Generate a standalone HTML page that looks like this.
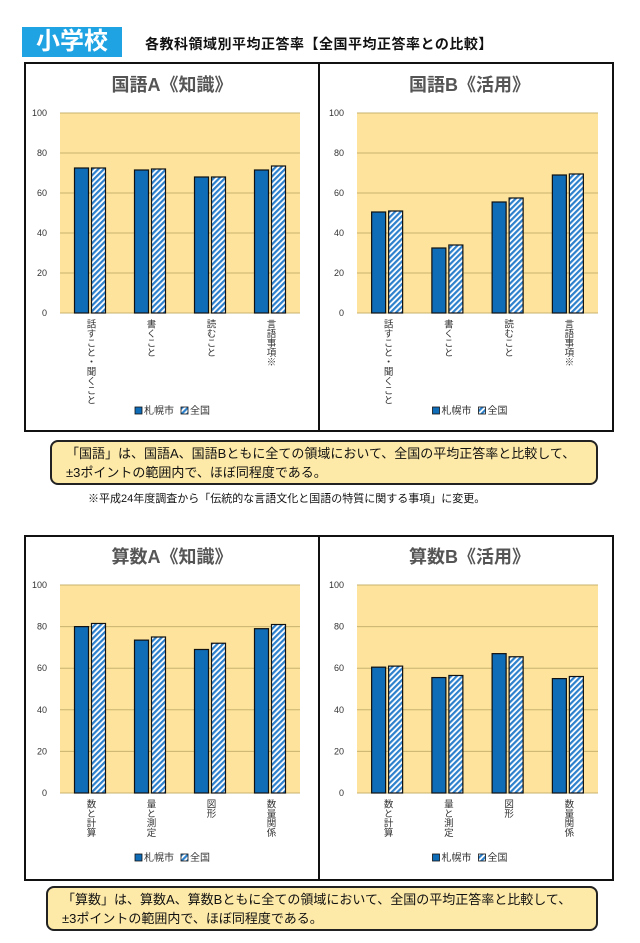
<!DOCTYPE html>
<html><head><meta charset="utf-8">
<style>
body{margin:0;background:#fff;font-family:"Liberation Sans","Noto Sans CJK JP",sans-serif;}
#wrap{position:relative;width:640px;height:943px;overflow:hidden;background:#fff;}
.abs{position:absolute;}
.note{position:absolute;background:#fde9a8;border:2px solid #222;border-radius:8px;font-size:13px;line-height:19px;color:#111;padding:2px 0 0 14px;box-sizing:border-box;}
</style></head>
<body>
<div id="wrap">
<div class="abs" style="left:22px;top:27px;width:100px;height:30px;background:#1fa3e3;color:#fff;font-weight:bold;font-size:24px;line-height:30px;text-align:center;">小学校</div>
<div class="abs" style="left:145px;top:34px;font-size:14px;font-weight:bold;color:#111;letter-spacing:0.5px;">各教科領域別平均正答率【全国平均正答率との比較】</div>
<div class="abs" style="left:24px;top:62px;width:590px;height:370px;border:2px solid #111;box-sizing:border-box;"></div>
<div class="abs" style="left:318px;top:62px;width:2px;height:370px;background:#111;"></div>
<div class="abs" style="left:24px;top:535px;width:590px;height:346px;border:2px solid #111;box-sizing:border-box;"></div>
<div class="abs" style="left:318px;top:535px;width:2px;height:346px;background:#111;"></div>
<div class="note" style="left:50px;top:440px;width:548px;height:45px;">「国語」は、国語A、国語Bともに全ての領域において、全国の平均正答率と比較して、<br>±3ポイントの範囲内で、ほぼ同程度である。</div>
<div class="abs" style="left:88px;top:490px;font-size:11px;color:#111;">※平成24年度調査から「伝統的な言語文化と国語の特質に関する事項」に変更。</div>
<div class="note" style="left:46px;top:886px;width:552px;height:45px;">「算数」は、算数A、算数Bともに全ての領域において、全国の平均正答率と比較して、<br>±3ポイントの範囲内で、ほぼ同程度である。</div>
<svg class="abs" id="svg" width="640" height="943" style="left:0;top:0">
<defs><pattern id="hatch" width="4" height="4" patternUnits="userSpaceOnUse" patternTransform="rotate(45)"><rect width="4" height="4" fill="#ffffff"/><rect width="2.2" height="4" fill="#2c80cc"/></pattern></defs>
</svg>
</div>
<script>
const catsKA=["話すこと・聞くこと","書くこと","読むこと","言語事項※"];
const sapKA=[72.5,71.5,68,71.5];
const natKA=[72.5,72,68,73.5];
const catsKB=["話すこと・聞くこと","書くこと","読むこと","言語事項※"];
const sapKB=[50.5,32.5,55.5,69];
const natKB=[51,34,57.5,69.5];
const catsSA=["数と計算","量と測定","図形","数量関係"];
const sapSA=[80,73.5,69,79];
const natSA=[81.5,75,72,81];
const catsSB=["数と計算","量と測定","図形","数量関係"];
const sapSB=[60.5,55.5,67,55];
const natSB=[61,56.5,65.5,56];
const ticks=[0,20,40,60,80,100];
const seriesNames=["札幌市","全国"];

const svg=document.getElementById('svg');
const NS="http://www.w3.org/2000/svg";
function mk(tag,attrs,parent){const e=document.createElementNS(NS,tag);for(const k in attrs)e.setAttribute(k,attrs[k]);(parent||svg).appendChild(e);return e;}

function chart(key,title,cats,sap,nat,x0,x1,yTop,yBot,titleY,legendY){
  const g=mk('g',{});
  
  
  const y=v=>yBot-(v/100)*(yBot-yTop);
  const bg=mk('rect',{x:x0,y:yTop,width:x1-x0,height:yBot-yTop,fill:'#fde39c'},g);
  
  
  const t=mk('text',{x:(x0+x1)/2-8,y:titleY,'text-anchor':'middle','font-size':18,'font-weight':'bold',fill:'#555'},g);
  t.textContent=title;
  
  
  ticks.forEach(v=>{
    const l=mk('line',{x1:x0,x2:x1,y1:y(v),y2:y(v),stroke:'#c9b36e','stroke-width':1},g);
    
    
    const tl=mk('text',{x:x0-13,y:y(v)+3,'text-anchor':'end','font-size':9,fill:'#333'},g);
    tl.textContent=v;
    
    
  });
  const gw=(x1-x0)/cats.length, bw=14;
  cats.forEach((c,i)=>{
    const cx=x0+gw*(i+0.5);
    const b1=mk('rect',{x:cx-bw-1.5,y:y(sap[i]),width:bw,height:yBot-y(sap[i]),fill:'#0f6cb6',stroke:'#111','stroke-width':1.2},g);
    
    
    const b2=mk('rect',{x:cx+1.5,y:y(nat[i]),width:bw,height:yBot-y(nat[i]),fill:'url(#hatch)',stroke:'#111','stroke-width':1.2},g);
    
    
    const lb=mk('text',{x:cx,y:yBot+6,'font-size':9.5,fill:'#333',style:'writing-mode:vertical-rl;glyph-orientation-vertical:0'},g);
    lb.textContent=c;
    
    
  });
  const lx=(x0+x1)/2-45;
  const s1=mk('rect',{x:lx,y:legendY-7,width:7,height:7,fill:'#0f6cb6',stroke:'#111','stroke-width':0.8},g);
  
  
  const t1=mk('text',{x:lx+9,y:legendY,'font-size':10,fill:'#333'},g);
  t1.textContent=seriesNames[0];
  
  
  const s2=mk('rect',{x:lx+46,y:legendY-7,width:7,height:7,fill:'url(#hatch)',stroke:'#111','stroke-width':0.8},g);
  
  
  const t2=mk('text',{x:lx+55,y:legendY,'font-size':10,fill:'#333'},g);
  t2.textContent=seriesNames[1];
  
  
}
chart('kokugo-a','国語A《知識》',catsKA,sapKA,natKA,60,300,113,313,91,414);
chart('kokugo-b','国語B《活用》',catsKB,sapKB,natKB,357,598,113,313,91,414);
chart('sansu-a','算数A《知識》',catsSA,sapSA,natSA,60,300,585,793,563,861);
chart('sansu-b','算数B《活用》',catsSB,sapSB,natSB,357,598,585,793,563,861);
</script>
</body></html>
